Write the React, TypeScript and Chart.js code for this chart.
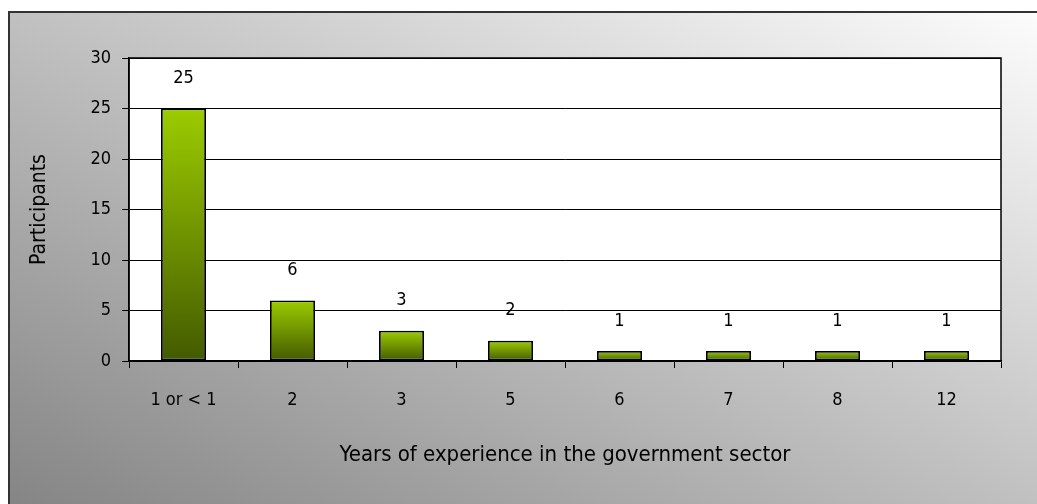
import React, { useEffect, useRef } from "react";
import { Chart, registerables } from "chart.js";

Chart.register(...registerables);

const categories = ["1 or < 1", "2", "3", "5", "6", "7", "8", "12"];
const participants = [25, 6, 3, 2, 1, 1, 1, 1];
const yTicks = [0, 5, 10, 15, 20, 25, 30];
const xTitle = "Years of experience in the government sector";
const yTitle = "Participants";

const FONT = '"DejaVu Sans Condensed", "Liberation Sans Narrow", sans-serif';

export default function App() {
  const ref = useRef<HTMLCanvasElement | null>(null);

  useEffect(() => {
    const canvas = ref.current;
    if (!canvas) return;

    const plotFrame = {
      id: "plotFrame",
      beforeDraw(chart: any) {
        const { ctx, chartArea: a } = chart;
        ctx.save();
        ctx.fillStyle = "#ffffff";
        ctx.fillRect(a.left, a.top, a.right - a.left, a.bottom - a.top);
        ctx.restore();
      },
      beforeDatasetsDraw(chart: any) {
        const { ctx, chartArea: a } = chart;
        ctx.save();
        ctx.strokeStyle = "#000";
        ctx.lineWidth = 1.5;
        ctx.strokeRect(a.left, a.top, a.right - a.left, a.bottom - a.top);
        ctx.restore();
      },
    };

    const valueLabels = {
      id: "valueLabels",
      afterDatasetsDraw(chart: any) {
        const { ctx } = chart;
        const meta = chart.getDatasetMeta(0);
        ctx.save();
        ctx.fillStyle = "#000";
        ctx.font = `18px ${FONT}`;
        ctx.textAlign = "center";
        ctx.textBaseline = "middle";
        meta.data.forEach((el: any, i: number) => {
          ctx.fillText(String(participants[i]), el.x, el.y - 30);
        });
        ctx.restore();
      },
    };

    const chart = new Chart(canvas, {
      type: "bar",
      data: {
        labels: categories,
        datasets: [
          {
            data: participants,
            backgroundColor: (c: any) => {
              const ch = c.chart;
              const y = ch.scales && ch.scales.y;
              if (!y || c.type !== "data") return "#7aa300";
              const top = y.getPixelForValue(c.raw);
              const bot = y.getPixelForValue(0);
              if (!isFinite(top) || !isFinite(bot) || top === bot) return "#7aa300";
              const g = ch.ctx.createLinearGradient(0, top, 0, bot);
              g.addColorStop(0, "#9ccc00");
              g.addColorStop(1, "#435a00");
              return g;
            },
            borderColor: "#000",
            borderWidth: 1.8,
            borderSkipped: false,
            barPercentage: 1,
            categoryPercentage: 0.413,
          },
        ],
      },
      options: {
        responsive: false,
        animation: false,
        layout: { padding: { left: 0, right: 36, top: 45, bottom: 0 } },
        plugins: {
          legend: { display: false },
          tooltip: { enabled: false },
        },
        scales: {
          x: {
            afterFit: (s: any) => {
              s.height = 143;
            },
            grid: {
              display: true,
              drawOnChartArea: false,
              drawTicks: true,
              tickLength: 7,
              color: "#000",
              offset: true,
            },
            border: { display: true, color: "#000", width: 1.5 },
            ticks: {
              color: "#000",
              font: { family: FONT, size: 18 },
              padding: 22,
              maxRotation: 0,
            },
            title: {
              display: true,
              text: xTitle,
              color: "#000",
              font: { family: FONT, size: 22 },
              padding: { top: 0, bottom: 36 },
            },
          },
          y: {
            min: 0,
            max: 30,
            afterFit: (s: any) => {
              s.width = 119;
            },
            afterBuildTicks: (s: any) => {
              s.ticks = yTicks.map((v) => ({ value: v }));
            },
            grid: {
              color: "#000",
              lineWidth: 1,
              tickLength: 7,
              drawTicks: true,
            },
            border: { display: true, color: "#000", width: 1.5 },
            ticks: {
              color: "#000",
              font: { family: FONT, size: 18 },
              padding: 11,
            },
            title: {
              display: true,
              text: yTitle,
              color: "#000",
              font: { family: FONT, size: 21 },
              padding: { top: 17, bottom: 0 },
            },
          },
        },
      },
      plugins: [plotFrame, valueLabels],
    } as any);

    return () => chart.destroy();
  }, []);

  return (
    <div
      style={{
        position: "fixed",
        left: 8,
        top: 11,
        width: 1027,
        height: 491,
        borderTop: "2px solid #333",
        borderLeft: "2px solid #333",
        background: "linear-gradient(to top right, #858585, #fcfcfc)",
      }}
    >
      <canvas ref={ref} width={1027} height={491} style={{ display: "block" }} />
    </div>
  );
}
